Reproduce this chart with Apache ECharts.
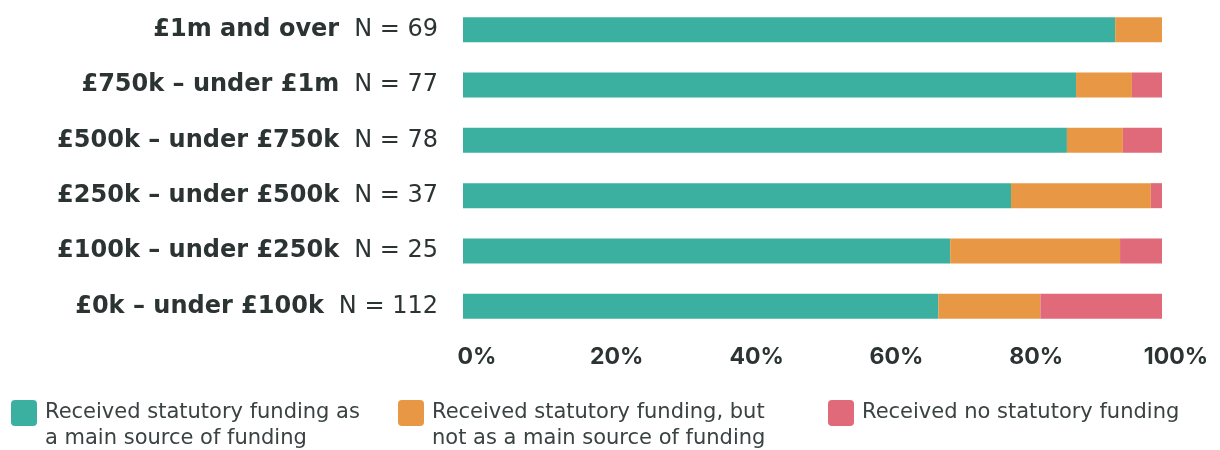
<!DOCTYPE html>
<html>
<head>
<meta charset="utf-8">
<script src="https://cdn.jsdelivr.net/npm/echarts@6/dist/echarts.min.js"></script>
<style>
  html, body { margin: 0; padding: 0; background: #fff; }
  #chart { width: 1220px; height: 450px; }
</style>
</head>
<body>
<div id="chart"></div>
<script>
// income bands, top to bottom
const bands = [
  "£1m and over",
  "£750k – under £1m",
  "£500k – under £750k",
  "£250k – under £500k",
  "£100k – under £250k",
  "£0k – under £100k"
];
const sampleN = [69, 77, 78, 37, 25, 112];

const seriesNames = [
  "Received statutory funding as\na main source of funding",
  "Received statutory funding, but\nnot as a main source of funding",
  "Received no statutory funding"
];
// percentages
const mainSource = [93.3, 87.7, 86.4, 78.4, 69.7, 68.0];
const notMain = [6.7, 8.0, 8.0, 20.0, 24.3, 14.6];
const noFunding = [0, 4.3, 5.6, 1.6, 6.0, 17.4];

const xTicks = [0, 20, 40, 60, 80, 100];

const colors = ["#3bb0a0", "#e89844", "#e0697a"];
const textDark = "#2b3333";
const legendText = "#3a4242";
const font = "Inter, 'Noto Sans', sans-serif";
const wideFont = "'DejaVu Sans', sans-serif";

const legendLeft = [6, 393, 823];

const chart = echarts.init(document.getElementById("chart"));

// legend shows the first line next to the icon, the second line is added below
function makeLegend(i) {
  return {
    data: [seriesNames[i]],
    left: legendLeft[i],
    top: 395,
    itemWidth: 26,
    itemHeight: 26,
    icon: "path://M4,0 H22 Q26,0 26,4 V22 Q26,26 22,26 H4 Q0,26 0,22 V4 Q0,0 4,0 Z",
    selectedMode: false,
    formatter: name => name.split("\n")[0],
    textStyle: {
      fontFamily: wideFont,
      fontSize: 21,
      color: legendText,
      padding: [0, 0, 0, 3]
    }
  };
}

let secondLines = [];
seriesNames.forEach((name, i) => {
  let parts = name.split("\n");
  if (parts.length > 1) {
    secondLines.push({
      type: "text",
      style: {
        x: legendLeft[i] + 39,
        y: 439,
        text: parts[1],
        fontFamily: wideFont,
        fontSize: 21,
        fill: legendText,
        verticalAlign: "middle"
      }
    });
  }
});

let dataSets = [mainSource, notMain, noFunding];

let option = {
  animation: false,
  backgroundColor: "#fff",
  legend: [makeLegend(0), makeLegend(1), makeLegend(2)],
  graphic: secondLines,
  grid: {
    left: 463,
    right: 58,
    top: 2,
    bottom: 116,
    containLabel: false
  },
  xAxis: {
    type: "value",
    min: 0,
    max: 100,
    interval: 20,
    splitLine: { show: false },
    axisLine: { show: false },
    axisTick: { show: false },
    axisLabel: {
      margin: 12,
      fontFamily: font,
      fontSize: 23,
      fontWeight: "bold",
      color: textDark,
      padding: [0, 0, 0, 28],
      formatter: v => (xTicks.indexOf(v) >= 0 ? v + "%" : "")
    }
  },
  yAxis: {
    type: "category",
    inverse: true,
    data: bands,
    axisLine: { show: false },
    axisTick: { show: false },
    axisLabel: {
      margin: 25,
      formatter: (v, idx) => "{b|" + v + "}{n|N = " + sampleN[idx] + "}",
      rich: {
        b: {
          fontFamily: wideFont,
          fontSize: 24,
          fontWeight: "bold",
          color: textDark
        },
        n: {
          fontFamily: wideFont,
          fontSize: 24,
          color: textDark,
          padding: [0, 0, 0, 15]
        }
      }
    }
  },
  series: seriesNames.map((name, i) => ({
    name: name,
    type: "bar",
    stack: "total",
    barWidth: 25,
    itemStyle: { color: colors[i] },
    data: dataSets[i]
  }))
};

chart.setOption(option);
</script>
</body>
</html>
